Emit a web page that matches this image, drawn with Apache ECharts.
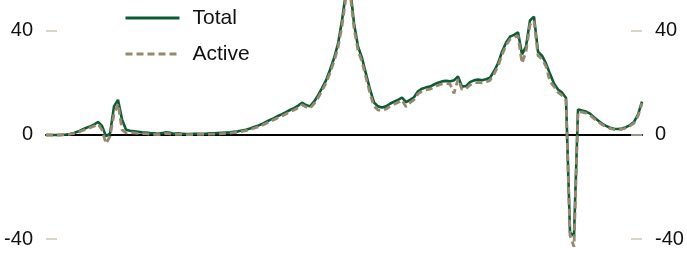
<!DOCTYPE html>
<html>
<head>
<meta charset="utf-8">
<script src="https://cdn.jsdelivr.net/npm/echarts@6/dist/echarts.min.js"></script>
<style>
  html, body { margin: 0; padding: 0; background: #fff; }
  #chart { width: 687px; height: 255px; }
</style>
</head>
<body>
<div id="chart"></div>
<script>
// values, one point every ~4px along the x axis
var totalData = [
  0, 0, 0, 0, 0.1, 0.2, 0.4, 0.8, 1.3, 2,
  2.7, 3.3, 4, 5, 3.5, -0.5, 0.5, 11, 13.5, 6,
  2, 1.6, 1.4, 1.2, 1.0, 0.9, 0.7, 0.6, 0.5, 0.7,
  1.0, 0.8, 0.5, 0.6, 0.5, 0.4, 0.4, 0.5, 0.5, 0.5,
  0.5, 0.6, 0.6, 0.7, 0.8, 0.9, 1.0, 1.2, 1.4, 1.7,
  2.0, 2.5, 3.1, 3.6, 4.2, 5.0, 5.8, 6.5, 7.3, 8.0,
  8.8, 9.6, 10.3, 11.2, 12.4, 11.5, 11.0, 12.8, 15.2, 18,
  21, 25, 29.5, 35, 44, 55, 57, 43, 34, 29.6,
  23.5, 17.5, 12.5, 11, 10.6, 11, 12, 12.8, 13.5, 14.4,
  12.6, 13.5, 14.5, 16.8, 17.8, 18.3, 18.6, 19.4, 20.1, 20.6,
  20.8, 20.6, 21, 22.5, 18.6, 18.8, 20.3, 21, 21.3, 21,
  21.4, 22, 24.5, 27.5, 32, 35.5, 37.8, 38.5, 39.5, 31,
  34, 44, 45.5, 32, 30.5, 27.5, 23.5, 19.8, 17.5, 16.3,
  14.2, -37.5, -38.8, 9.8, 9.4, 9.0, 8.2, 6.8, 5.6, 4.4,
  3.5, 2.8, 2.4, 2.3, 2.5, 3.0, 3.8, 5.0, 7.8, 12.8
];
var activeData = [
  0, 0, 0, 0, 0, 0.1, 0.3, 0.6, 1.0, 1.6,
  2.2, 2.8, 3.4, 4.2, 2, -3.3, -0.5, 8, 12, 2,
  0.8, 0.9, 0.8, 0.6, 0.5, 0.5, 0.3, 0.2, 0.1, 0.4,
  0.6, 0.4, 0.1, 0.3, 0.2, 0.1, 0.1, 0.2, 0.2, 0.2,
  0.2, 0.3, 0.3, 0.4, 0.5, 0.6, 0.7, 0.9, 1.1, 1.4,
  1.7, 2.1, 2.6, 3.1, 3.7, 4.4, 5.2, 5.9, 6.6, 7.3,
  8.1, 8.9, 9.6, 10.4, 11.6, 10.8, 10.2, 12.0, 14.2, 17,
  20, 23.8, 28.2, 33.5, 42, 53, 55, 41, 32.5, 28.2,
  22, 16, 11, 9.6, 9.5, 10, 11, 11.8, 12.5, 13.4,
  10.8, 12.4, 13.5, 15.8, 16.8, 17.3, 17.6, 18.4, 19.1, 19.6,
  19.8, 19.6, 16, 21.5, 17.5, 17.8, 19.2, 20, 20.2, 20,
  20.4, 21, 23.4, 26.4, 30.8, 34.4, 36.8, 37.4, 38.2, 27.6,
  32, 42.5, 44, 30.5, 29.2, 26.4, 20.5, 18.6, 16.4, 15.2,
  13.4, -38.5, -43, 9.0, 8.8, 8.4, 7.6, 6.3, 5.1, 4.0,
  3.2, 2.5, 2.1, 2.0, 2.2, 2.7, 3.5, 4.6, 7.3, 12.2
];
var tickValues = [-40, 0, 40];
var categories = totalData.map(function (v, i) { return i; });

var chartDom = document.getElementById('chart');
var myChart = echarts.init(chartDom);
var option;

var yAxisBase = function (side) {
  return {
    type: 'value',
    position: side,
    min: -46.15,
    max: 51.9,
    splitLine: { show: false },
    axisLine: { show: false },
    axisTick: {
      show: true,
      inside: true,
      length: 11,
      customValues: tickValues,
      lineStyle: { color: '#cec8b3', width: 1.5 }
    },
    axisLabel: {
      customValues: tickValues,
      margin: 13,
      fontSize: 20,
      color: '#111',
      fontFamily: 'Liberation Sans, Arial, sans-serif'
    }
  };
};

option = {
  animation: false,
  grid: { left: 46, right: 45, top: 0, bottom: 0, containLabel: false },
  legend: {
    orient: 'vertical',
    left: 119,
    top: 2,
    itemWidth: 54,
    itemHeight: 14,
    itemGap: 14,
    itemStyle: { opacity: 0 },
    lineStyle: { width: 3 },
    textStyle: {
      fontSize: 21,
      lineHeight: 22,
      color: '#111',
      padding: [0, 0, 0, 8],
      fontFamily: 'Liberation Sans, Arial, sans-serif'
    },
    data: ['Total', 'Active']
  },
  xAxis: {
    type: 'category',
    data: categories,
    boundaryGap: false,
    axisLine: { onZero: true, lineStyle: { color: '#000', width: 2 } },
    axisTick: { show: false },
    axisLabel: { show: false },
    splitLine: { show: false }
  },
  yAxis: [yAxisBase('left'), yAxisBase('right')],
  series: [
    {
      name: 'Total',
      type: 'line',
      data: totalData,
      symbol: 'none',
      lineStyle: { color: '#0d5c35', width: 2.6 },
      itemStyle: { color: '#0d5c35' }
    },
    {
      name: 'Active',
      type: 'line',
      data: activeData,
      symbol: 'none',
      lineStyle: { color: '#958a6c', width: 2.8, type: [7, 4] },
      itemStyle: { color: '#958a6c' }
    }
  ]
};
option && myChart.setOption(option);
</script>
</body>
</html>
